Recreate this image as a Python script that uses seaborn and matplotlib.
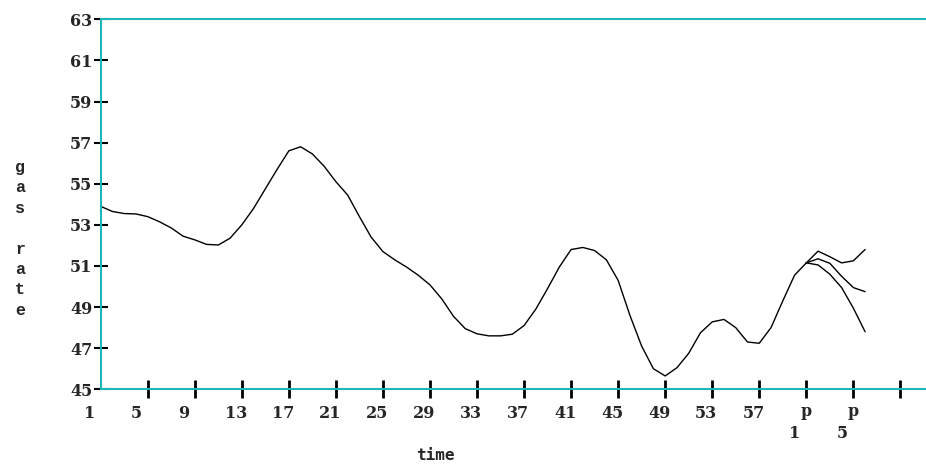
import matplotlib
matplotlib.use("Agg")
import matplotlib.pyplot as plt
import matplotlib.transforms as mtransforms
import seaborn as sns
import pandas as pd

# ---- data ----
time_main = list(range(1, 62))
gas_main = [53.9, 53.65, 53.55, 53.53, 53.4, 53.15, 52.85, 52.45, 52.27, 52.05,
            52.02, 52.35, 53.0, 53.8, 54.75, 55.7, 56.6, 56.8, 56.45, 55.85,
            55.1, 54.45, 53.4, 52.4, 51.7, 51.3, 50.95, 50.55, 50.08, 49.4,
            48.55, 47.95, 47.7, 47.6, 47.6, 47.68, 48.1, 48.9, 49.9, 50.95,
            51.8, 51.9, 51.75, 51.3, 50.3, 48.6, 47.1, 46.0, 45.65, 46.05,
            46.75, 47.75, 48.28, 48.4, 48.0, 47.3, 47.24, 48.0, 49.3, 50.55,
            51.15]
time_fc = [61, 62, 63, 64, 65, 66]
fc_upper = [51.15, 51.72, 51.45, 51.15, 51.25, 51.8]
fc_middle = [51.15, 51.35, 51.13, 50.5, 49.95, 49.75]
fc_lower = [51.15, 51.05, 50.6, 49.95, 48.95, 47.8]

x_ticks = [5, 9, 13, 17, 21, 25, 29, 33, 37, 41, 45, 49, 53, 57, 61, 65, 69]
x_labels = ["1", "5", "9", "13", "17", "21", "25", "29", "33", "37", "41",
            "45", "49", "53", "57"]
x_label_pos = [1, 5, 9, 13, 17, 21, 25, 29, 33, 37, 41, 45, 49, 53, 57]
p_label_pos = [61, 65]
p_sub = ["1", "5"]
y_ticks = [45, 47, 49, 51, 53, 55, 57, 59, 61, 63]

TEAL = "#1cb8b8"

sns.set_style("white")
plt.rcParams["font.family"] = ["DejaVu Serif", "DejaVu Sans"]

fig = plt.figure(figsize=(9.26, 4.66), dpi=100)
ax = fig.add_axes([100.7 / 926, 1 - 389.3 / 466, 1 - 100.7 / 926, (389.3 - 19.3) / 466])

df_main = pd.DataFrame({"time": time_main, "gas": gas_main})
sns.lineplot(data=df_main, x="time", y="gas", ax=ax, color="black", linewidth=1.0)
for arr in (fc_upper, fc_middle, fc_lower):
    d = pd.DataFrame({"time": time_fc, "gas": arr})
    sns.lineplot(data=d, x="time", y="gas", ax=ax, color="black", linewidth=1.0)

ax.set_xlim(1, 1 + 825.3 / 11.76)
ax.set_ylim(45, 63)

for s in ("left", "bottom", "top"):
    ax.spines[s].set_color(TEAL)
    ax.spines[s].set_linewidth(1.5)
    ax.spines[s].set_visible(True)
ax.spines["right"].set_visible(False)

ax.set_xticks(x_ticks)
ax.set_xticklabels([])
ax.tick_params(axis="x", direction="inout", length=13, width=2, color="black",
               bottom=True)
ax.set_yticks(y_ticks)
ax.set_yticklabels([str(v) for v in y_ticks], fontsize=11.5, fontweight="bold",
                   family="DejaVu Serif")
ax.tick_params(axis="y", direction="inout", length=10, width=1.5, color="black",
               pad=1, left=True)
ax.set_xlabel("")
ax.set_ylabel("")
ax.grid(False)

# x tick labels (left-aligned, offset as in the reference)
row1 = mtransforms.offset_copy(ax.get_xaxis_transform(), fig=fig, x=-17, y=-23.7, units="dots")
row1c = mtransforms.offset_copy(ax.get_xaxis_transform(), fig=fig, x=0, y=-22, units="dots")
row2 = mtransforms.offset_copy(ax.get_xaxis_transform(), fig=fig, x=-17, y=-43.7, units="dots")
for pos, lab in zip(x_label_pos, x_labels):
    ax.text(pos, 0, lab, transform=row1, ha="left", va="center",
            fontsize=11.5, fontweight="bold", family="DejaVu Serif")
for pos, lab in zip(p_label_pos, p_sub):
    ax.text(pos, 0, "p", transform=row1c, ha="center", va="center",
            fontsize=11.5, fontweight="bold", family="DejaVu Serif")
    ax.text(pos, 0, lab, transform=row2, ha="left", va="center",
            fontsize=11.5, fontweight="bold", family="DejaVu Serif")

fig.text(435 / 926, 1 - 455 / 466, "time", ha="center", va="center",
         fontsize=11.5, fontweight="bold", family="DejaVu Sans Mono")
fig.text(20 / 926, 1 - 239 / 466, "g\na\ns\n\nr\na\nt\ne", ha="center", va="center",
         fontsize=12, fontweight="bold", family="Liberation Mono", linespacing=1.45)

fig.savefig("out.png", dpi=100)
